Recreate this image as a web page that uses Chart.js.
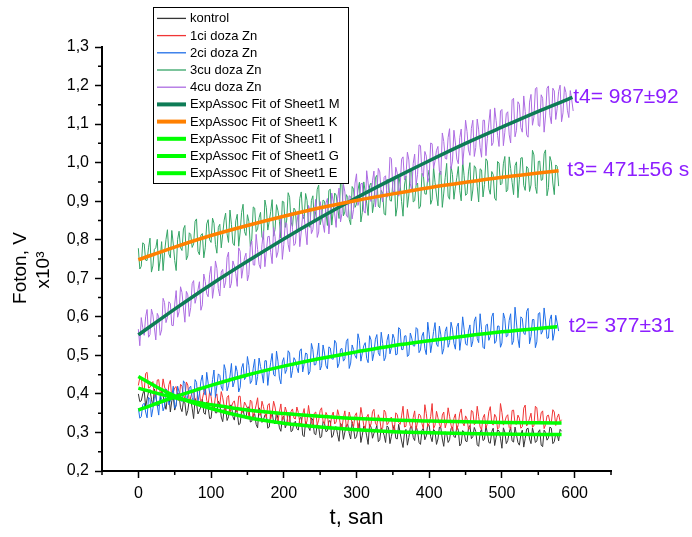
<!DOCTYPE html>
<html><head><meta charset="utf-8">
<script src="https://cdn.jsdelivr.net/npm/chart.js@4.4.1/dist/chart.umd.min.js"></script>
<style>html,body{margin:0;padding:0;background:#fff}</style>
</head><body>
<canvas id="c" width="692" height="537"></canvas>
<script>
// ---------- data (samples at t = 0,4,8,... and t = 2,6,10,...) ----------
const times = [0,4,8,12,16,20,24,28,32,36,40,44,48,52,56,60,64,68,72,76,80,84,88,92,96,100,104,108,112,116,120,124,128,132,136,140,144,148,152,156,160,164,168,172,176,180,184,188,192,196,200,204,208,212,216,220,224,228,232,236,240,244,248,252,256,260,264,268,272,276,280,284,288,292,296,300,304,308,312,316,320,324,328,332,336,340,344,348,352,356,360,364,368,372,376,380,384,388,392,396,400,404,408,412,416,420,424,428,432,436,440,444,448,452,456,460,464,468,472,476,480,484,488,492,496,500,504,508,512,516,520,524,528,532,536,540,544,548,552,556,560,564,568,572,576,580,584,588,592,596];
const timesB = [2,6,10,14,18,22,26,30,34,38,42,46,50,54,58,62,66,70,74,78,82,86,90,94,98,102,106,110,114,118,122,126,130,134,138,142,146,150,154,158,162,166,170,174,178,182,186,190,194,198,202,206,210,214,218,222,226,230,234,238,242,246,250,254,258,262,266,270,274,278,282,286,290,294,298,302,306,310,314,318,322,326,330,334,338,342,346,350,354,358,362,366,370,374,378,382,386,390,394,398,402,406,410,414,418,422,426,430,434,438,442,446,450,454,458,462,466,470,474,478,482,486,490,494,498,502,506,510,514,518,522,526,530,534,538,542,546,550,554,558,562,566,570,574,578,582,586,590,594,598];

const kontrol = [0.400,0.382,0.410,0.387,0.411,0.368,0.394,0.370,0.410,0.376,
0.392,0.353,0.393,0.372,0.398,0.354,0.377,0.357,0.388,0.336,
0.375,0.357,0.387,0.347,0.364,0.337,0.372,0.351,0.374,0.328,
0.364,0.341,0.371,0.332,0.351,0.323,0.359,0.336,0.366,0.329,
0.348,0.312,0.355,0.333,0.347,0.314,0.352,0.322,0.336,0.303,
0.342,0.322,0.343,0.305,0.329,0.306,0.339,0.289,0.321,0.305,
0.332,0.294,0.314,0.289,0.324,0.304,0.330,0.293,0.315,0.277,
0.317,0.301,0.321,0.283,0.309,0.289,0.326,0.293,0.311,0.269,
0.314,0.298,0.318,0.281,0.303,0.274,0.313,0.290,0.319,0.283,
0.299,0.261,0.308,0.287,0.315,0.279,0.302,0.269,0.311,0.291,
0.318,0.276,0.303,0.283,0.312,0.264,0.298,0.281,0.314,0.287,
0.306,0.271,0.301,0.276,0.318,0.289,0.303,0.264,0.309,0.282,
0.298,0.272,0.311,0.287,0.304,0.259,0.301,0.279,0.313,0.275,
0.294,0.267,0.306,0.284,0.311,0.271,0.296,0.278,0.307,0.263,
0.300,0.286,0.311,0.276,0.295,0.308];
const kontrolB = [0.380,0.400,0.366,0.405,0.386,0.413,0.368,0.383,0.395,0.360,
0.400,0.382,0.358,0.403,0.364,0.381,0.344,0.385,0.363,0.388,
0.348,0.367,0.351,0.379,0.336,0.372,0.351,0.381,0.340,0.361,
0.331,0.370,0.341,0.363,0.320,0.357,0.341,0.365,0.327,0.347,
0.321,0.364,0.326,0.345,0.311,0.350,0.326,0.353,0.312,0.339,
0.312,0.351,0.302,0.325,0.310,0.337,0.293,0.328,0.313,0.338,
0.297,0.321,0.286,0.328,0.302,0.330,0.287,0.313,0.294,0.324,
0.282,0.319,0.298,0.328,0.284,0.311,0.274,0.317,0.291,0.321,
0.285,0.306,0.276,0.312,0.293,0.317,0.271,0.307,0.285,0.321,
0.278,0.300,0.267,0.313,0.287,0.317,0.274,0.306,0.281,0.322,
0.289,0.308,0.269,0.314,0.283,0.302,0.274,0.310,0.289,0.317,
0.265,0.305,0.278,0.312,0.284,0.313,0.268,0.299,0.279,0.317,
0.274,0.302,0.266,0.307,0.285,0.312,0.271,0.300,0.278,0.314,
0.274,0.295,0.262,0.309,0.283,0.312,0.274,0.301,0.267,0.306,
0.280,0.314,0.271,0.297,0.278,0.303];

const doza1 = [0.422,0.443,0.408,0.456,0.417,0.432,0.394,0.437,0.404,0.418,
0.391,0.435,0.404,0.419,0.382,0.420,0.389,0.423,0.392,0.406,
0.369,0.409,0.387,0.418,0.372,0.393,0.363,0.400,0.370,0.390,
0.352,0.396,0.367,0.382,0.353,0.394,0.356,0.371,0.343,0.380,
0.355,0.390,0.345,0.367,0.338,0.375,0.350,0.366,0.328,0.374,
0.337,0.353,0.328,0.361,0.335,0.352,0.320,0.362,0.330,0.342,
0.316,0.353,0.332,0.364,0.322,0.344,0.317,0.353,0.327,0.344,
0.312,0.356,0.321,0.337,0.315,0.351,0.327,0.343,0.308,0.347,
0.322,0.360,0.318,0.334,0.312,0.352,0.325,0.340,0.306,0.346,
0.321,0.368,0.316,0.337,0.311,0.356,0.328,0.344,0.309,0.349,
0.323,0.375,0.319,0.338,0.313,0.353,0.326,0.342,0.305,0.348,
0.321,0.361,0.317,0.335,0.310,0.354,0.324,0.341,0.307,0.347,
0.323,0.367,0.319,0.340,0.313,0.352,0.328,0.346,0.309,0.358,
0.321,0.337,0.315,0.371,0.324,0.350,0.317,0.364,0.326,0.356,
0.320,0.345,0.327,0.353,0.339,0.328];
const doza1B = [0.442,0.408,0.453,0.415,0.426,0.394,0.436,0.403,0.439,0.408,
0.424,0.386,0.416,0.389,0.425,0.395,0.431,0.380,0.404,0.384,
0.417,0.368,0.404,0.383,0.406,0.364,0.393,0.366,0.406,0.369,
0.391,0.351,0.377,0.359,0.394,0.350,0.379,0.363,0.384,0.338,
0.371,0.346,0.381,0.350,0.371,0.335,0.381,0.341,0.354,0.332,
0.366,0.322,0.355,0.337,0.366,0.325,0.347,0.319,0.370,0.328,
0.350,0.319,0.357,0.329,0.352,0.312,0.343,0.322,0.359,0.317,
0.338,0.313,0.353,0.326,0.344,0.309,0.365,0.318,0.340,0.313,
0.354,0.324,0.346,0.307,0.358,0.320,0.335,0.311,0.351,0.326,
0.343,0.314,0.360,0.317,0.339,0.308,0.348,0.323,0.372,0.315,
0.341,0.310,0.355,0.321,0.345,0.312,0.364,0.319,0.337,0.306,
0.350,0.325,0.343,0.309,0.357,0.320,0.368,0.314,0.338,0.311,
0.354,0.325,0.347,0.309,0.375,0.319,0.341,0.313,0.357,0.323,
0.345,0.311,0.363,0.317,0.337,0.314,0.368,0.322,0.351,0.310,
0.343,0.326,0.359,0.318,0.348,0.333];

const doza2 = [0.363,0.341,0.376,0.338,0.387,0.362,0.400,0.345,0.386,0.367,
0.407,0.382,0.420,0.369,0.405,0.380,0.427,0.395,0.420,0.378,
0.430,0.400,0.449,0.397,0.428,0.396,0.462,0.421,0.448,0.409,
0.461,0.421,0.479,0.431,0.458,0.417,0.479,0.444,0.474,0.434,
0.490,0.445,0.471,0.428,0.486,0.456,0.505,0.446,0.485,0.426,
0.494,0.463,0.506,0.461,0.487,0.455,0.517,0.478,0.504,0.458,
0.515,0.476,0.532,0.473,0.506,0.465,0.519,0.490,0.532,0.479,
0.518,0.491,0.543,0.480,0.515,0.492,0.539,0.506,0.533,0.481,
0.540,0.506,0.554,0.499,0.531,0.495,0.555,0.520,0.544,0.503,
0.568,0.515,0.551,0.501,0.545,0.524,0.568,0.514,0.560,0.502,
0.555,0.532,0.585,0.523,0.553,0.517,0.574,0.533,0.568,0.516,
0.584,0.544,0.568,0.526,0.579,0.537,0.600,0.533,0.567,0.517,
0.581,0.549,0.610,0.537,0.576,0.532,0.595,0.551,0.608,0.538,
0.584,0.520,0.596,0.554,0.622,0.549,0.593,0.535,0.611,0.563,
0.589,0.545,0.605,0.558,0.584];
const doza2B = [0.337,0.372,0.353,0.391,0.340,0.389,0.370,0.398,0.356,0.413,
0.372,0.393,0.363,0.420,0.386,0.434,0.379,0.416,0.390,0.437,
0.381,0.433,0.408,0.456,0.403,0.437,0.391,0.452,0.418,0.476,
0.408,0.446,0.418,0.473,0.405,0.467,0.437,0.497,0.427,0.467,
0.423,0.493,0.453,0.486,0.422,0.482,0.450,0.511,0.441,0.483,
0.453,0.512,0.442,0.494,0.469,0.511,0.457,0.506,0.450,0.531,
0.475,0.500,0.462,0.527,0.473,0.522,0.491,0.539,0.468,0.516,
0.485,0.536,0.466,0.527,0.499,0.556,0.485,0.525,0.492,0.551,
0.486,0.542,0.507,0.560,0.486,0.539,0.504,0.555,0.501,0.572,
0.515,0.550,0.497,0.558,0.525,0.572,0.507,0.550,0.517,0.586,
0.507,0.562,0.529,0.576,0.503,0.562,0.521,0.586,0.531,0.574,
0.513,0.600,0.530,0.563,0.522,0.589,0.544,0.608,0.521,0.578,
0.539,0.600,0.531,0.576,0.521,0.610,0.548,0.591,0.528,0.625,
0.543,0.600,0.557,0.614,0.530,0.593,0.520,0.608,0.555,0.623,
0.544,0.593,0.539,0.604,0.563];

const doza3 = [0.778,0.731,0.789,0.746,0.804,0.732,0.779,0.719,0.795,0.767,
0.826,0.753,0.789,0.720,0.822,0.772,0.837,0.758,0.814,0.789,
0.854,0.761,0.816,0.779,0.852,0.793,0.843,0.765,0.840,0.814,
0.869,0.793,0.840,0.785,0.866,0.820,0.892,0.811,0.847,0.802,
0.882,0.828,0.871,0.801,0.883,0.848,0.904,0.827,0.875,0.804,
0.898,0.851,0.910,0.834,0.876,0.830,0.924,0.854,0.902,0.832,
0.914,0.873,0.942,0.856,0.900,0.837,0.931,0.875,0.916,0.855,
0.943,0.872,0.909,0.839,0.931,0.892,0.949,0.871,0.925,0.863,
0.947,0.896,0.967,0.883,0.920,0.864,0.951,0.900,0.963,0.885,
0.944,0.861,0.965,0.916,0.979,0.901,0.947,0.887,0.968,0.918,
0.981,0.904,0.949,0.888,0.978,0.921,0.998,0.905,0.969,0.937,
0.990,0.901,0.966,0.919,1.000,0.929,0.986,0.898,0.981,0.943,
1.004,0.918,0.969,0.902,0.999,0.946,1.016,0.930,0.985,0.917,
1.002,0.957,1.013,0.928,0.985,0.942,1.020,0.920,1.004,0.956,
1.033,0.935,1.002,0.917,0.990];
const doza3B = [0.724,0.792,0.747,0.779,0.716,0.775,0.801,0.748,0.720,0.801,
0.763,0.824,0.746,0.801,0.779,0.828,0.748,0.818,0.780,0.848,
0.770,0.812,0.753,0.841,0.800,0.856,0.788,0.832,0.779,0.851,
0.815,0.877,0.791,0.849,0.783,0.871,0.821,0.865,0.783,0.885,
0.821,0.857,0.807,0.903,0.825,0.873,0.809,0.891,0.848,0.900,
0.832,0.922,0.846,0.882,0.819,0.907,0.861,0.920,0.838,0.902,
0.852,0.931,0.839,0.903,0.870,0.928,0.838,0.921,0.883,0.950,
0.862,0.917,0.853,0.938,0.884,0.929,0.846,0.950,0.895,0.941,
0.870,0.961,0.887,0.928,0.867,0.957,0.902,0.949,0.861,0.968,
0.899,0.942,0.884,0.981,0.898,0.942,0.881,0.972,0.919,0.962,
0.892,0.989,0.916,0.973,0.884,0.962,0.913,0.990,0.905,0.962,
0.927,1.006,0.915,0.976,0.901,0.992,0.939,0.984,0.911,1.010,
0.932,0.977,0.908,1.003,0.942,0.997,0.924,1.015,0.949,0.992,
0.909,1.012,0.941,0.990,0.925,1.032,0.938,1.003,0.954,1.023,
0.914,1.016,0.947,0.994,0.939];

const doza4 = [0.568,0.598,0.552,0.619,0.554,0.605,0.540,0.600,0.566,0.637,
0.599,0.634,0.577,0.668,0.613,0.663,0.586,0.657,0.624,0.694,
0.652,0.691,0.631,0.692,0.652,0.731,0.677,0.726,0.654,0.723,
0.690,0.768,0.687,0.732,0.679,0.770,0.727,0.765,0.710,0.797,
0.734,0.775,0.725,0.822,0.769,0.809,0.738,0.808,0.768,0.855,
0.787,0.842,0.769,0.827,0.790,0.872,0.820,0.860,0.787,0.876,
0.826,0.905,0.820,0.875,0.819,0.907,0.859,0.900,0.832,0.934,
0.868,0.924,0.858,0.912,0.879,0.971,0.903,0.947,0.869,0.947,
0.899,0.978,0.921,0.976,0.898,0.966,0.928,1.010,0.922,0.973,
0.937,1.015,0.963,1.007,0.927,1.022,0.970,1.044,0.963,1.017,
0.963,1.049,1.004,1.042,0.969,1.055,1.009,1.088,1.004,1.051,
0.997,1.087,1.038,1.081,1.019,1.110,1.039,1.085,1.014,1.110,
1.063,1.138,1.052,1.109,1.042,1.138,1.079,1.132,1.051,1.167,
1.084,1.151,1.079,1.133,1.066,1.177,1.118,1.195,1.094,1.167,
1.121,1.199,1.101,1.186,1.141,1.201,1.129,1.182,1.117,1.163];
const doza4B = [0.525,0.572,0.600,0.547,0.620,0.572,0.609,0.552,0.648,0.585,
0.639,0.578,0.633,0.599,0.678,0.623,0.666,0.601,0.686,0.635,
0.670,0.617,0.711,0.660,0.709,0.648,0.745,0.673,0.716,0.675,
0.754,0.675,0.745,0.712,0.779,0.700,0.753,0.693,0.784,0.735,
0.814,0.736,0.787,0.730,0.808,0.767,0.832,0.754,0.807,0.749,
0.844,0.788,0.871,0.785,0.844,0.782,0.866,0.823,0.889,0.816,
0.866,0.806,0.899,0.841,0.895,0.815,0.921,0.867,0.906,0.846,
0.944,0.864,0.914,0.854,0.947,0.889,0.945,0.875,0.979,0.911,
0.953,0.885,0.985,0.917,0.962,0.910,1.014,0.928,0.988,0.913,
1.009,0.955,1.027,0.945,0.998,0.942,1.046,0.974,1.029,0.949,
1.051,0.985,1.032,0.978,1.077,1.011,1.065,0.984,1.084,1.009,
1.065,0.995,1.110,1.033,1.089,1.016,1.113,1.039,1.110,1.018,
1.103,1.044,1.142,1.071,1.134,1.044,1.127,1.072,1.163,1.067,
1.158,1.091,1.173,1.072,1.157,1.097,1.192,1.097,1.176,1.079,
1.193,1.122,1.193,1.112,1.185,1.106,1.197,1.136,1.187,1.134];

// ExpAssoc fits
const fitMT = [0,50,100,150,200,250,300,350,400,450,500,550,597];
const fitM  = [0.553,0.620,0.684,0.744,0.802,0.857,0.909,0.958,1.005,1.050,1.092,1.133,1.169];
const fitKT = [0,50,100,150,200,250,300,350,400,450,500,550,578];
const fitK  = [0.748,0.781,0.811,0.837,0.861,0.883,0.902,0.919,0.935,0.949,0.962,0.973,0.979];
const fitIT = [0,50,100,150,200,250,300,350,400,450,500,550,576];
const fitI  = [0.358,0.392,0.422,0.449,0.472,0.492,0.509,0.525,0.538,0.550,0.561,0.570,0.574];
const fitGT = [0,25,50,75,100,150,200,250,300,350,400,450,500,550,582];
const fitG  = [0.415,0.402,0.390,0.380,0.372,0.358,0.349,0.342,0.336,0.332,0.330,0.328,0.326,0.325,0.3245];
const fitET = [0,25,50,75,100,150,200,250,300,350,400,450,500,550,582];
const fitE  = [0.445,0.418,0.395,0.377,0.362,0.339,0.324,0.314,0.307,0.302,0.299,0.297,0.296,0.295,0.2945];

const seriesLabels = ['kontrol','1ci doza Zn','2ci doza Zn','3cu doza Zn','4cu doza Zn',
  'ExpAssoc Fit of Sheet1 M','ExpAssoc Fit of Sheet1 K','ExpAssoc Fit of Sheet1 I',
  'ExpAssoc Fit of Sheet1 G','ExpAssoc Fit of Sheet1 E'];

const xTickValues = [0,100,200,300,400,500,600];
const xTickLabels = ['0','100','200','300','400','500','600'];
const xMinorTicks = [-50,50,150,250,350,450,550,650];
const yTickValues = [0.2,0.3,0.4,0.5,0.6,0.7,0.8,0.9,1.0,1.1,1.2,1.3];
const yTickLabels = ['0,2','0,3','0,4','0,5','0,6','0,7','0,8','0,9','1,0','1,1','1,2','1,3'];
const yMinorTicks = [0.25,0.35,0.45,0.55,0.65,0.75,0.85,0.95,1.05,1.15,1.25];

const xTitle = 't, san';
const yTitleLines = ['Foton, V', 'x10\u00B3'];

const notes = [
  {text:'t4= 987\u00B192', x:598, y:1.170},
  {text:'t3= 471\u00B156 s', x:590, y:0.980},
  {text:'t2= 377\u00B131', x:592, y:0.576}
];

// ---------- build ----------
const FAM = "'Liberation Sans', Arial, sans-serif";
function merge(a, b) {
  const out = [];
  const n = Math.max(a.length, b.length);
  for (let i = 0; i < n; i++) {
    if (i < a.length) out.push({x: times[i], y: a[i]});
    if (i < b.length) out.push({x: timesB[i], y: b[i]});
  }
  return out;
}
const pts = (tt, vv) => vv.map((v, i) => ({x: tt[i], y: v}));

const colors = ['#353535','#f03535','#1f6ee8','#35a566','#ad6ce2','#0e7c56','#ff8000','#00ff00','#00ff00','#00ff00'];
const rawA = [kontrol, doza1, doza2, doza3, doza4];
const rawB = [kontrolB, doza1B, doza2B, doza3B, doza4B];
const fitsT = [fitMT, fitKT, fitIT, fitGT, fitET];
const fitsV = [fitM, fitK, fitI, fitG, fitE];

const datasets = [];
rawA.forEach((vals, k) => datasets.push({
  label: seriesLabels[k], data: merge(vals, rawB[k]), borderColor: colors[k],
  borderWidth: 1, pointRadius: 0, tension: 0, order: 10 - k, fill: false
}));
fitsV.forEach((vals, k) => datasets.push({
  label: seriesLabels[5 + k], data: pts(fitsT[k], vals), borderColor: colors[5 + k],
  borderWidth: 3.5, pointRadius: 0, cubicInterpolationMode: 'monotone', order: 5 - k, fill: false
}));

const minorTicks = {
  id: 'minorTicks',
  afterDraw(chart) {
    const ctx = chart.ctx, xs = chart.scales.x, ys = chart.scales.y;
    ctx.save();
    ctx.strokeStyle = '#000'; ctx.lineWidth = 1.5;
    ctx.beginPath();
    xMinorTicks.forEach(v => { const p = xs.getPixelForValue(v); ctx.moveTo(p, ys.bottom); ctx.lineTo(p, ys.bottom + 4); });
    yMinorTicks.forEach(v => { const p = ys.getPixelForValue(v); ctx.moveTo(xs.left, p); ctx.lineTo(xs.left - 4, p); });
    ctx.stroke();
    ctx.restore();
  }
};

const yTitlePlugin = {
  id: 'yTitle',
  afterDraw(chart) {
    const ctx = chart.ctx;
    ctx.save();
    ctx.fillStyle = '#000';
    ctx.textAlign = 'center'; ctx.textBaseline = 'middle';
    ctx.font = '19px ' + FAM;
    ctx.translate(21, 268); ctx.rotate(-Math.PI / 2);
    ctx.fillText(yTitleLines[0], 0, 0);
    ctx.fillText(yTitleLines[1], -2, 23);
    ctx.restore();
  }
};

const boxLegend = {
  id: 'boxLegend',
  afterDraw(chart) {
    const ctx = chart.ctx;
    ctx.save();
    ctx.fillStyle = '#fff';
    ctx.fillRect(153, 7, 195, 176);
    ctx.strokeStyle = '#000'; ctx.lineWidth = 1;
    ctx.strokeRect(153.5, 7.5, 195, 176);
    ctx.font = '13px ' + FAM;
    ctx.textBaseline = 'middle'; ctx.textAlign = 'left';
    chart.data.datasets.forEach((ds, k) => {
      const y = 18.4 + k * 17.2;
      ctx.strokeStyle = ds.borderColor;
      ctx.lineWidth = ds.borderWidth > 2 ? 4 : 1.3;
      ctx.beginPath(); ctx.moveTo(157, y); ctx.lineTo(186, y); ctx.stroke();
      ctx.fillStyle = '#000';
      ctx.fillText(ds.label, 190, y + 0.5);
    });
    ctx.restore();
  }
};

const noteLabels = {
  id: 'noteLabels',
  afterDraw(chart) {
    const ctx = chart.ctx, xs = chart.scales.x, ys = chart.scales.y;
    ctx.save();
    ctx.fillStyle = '#8c1eff';
    ctx.font = '21px ' + FAM;
    ctx.textBaseline = 'middle'; ctx.textAlign = 'left';
    notes.forEach(n => ctx.fillText(n.text, xs.getPixelForValue(n.x), ys.getPixelForValue(n.y)));
    ctx.restore();
  }
};

new Chart(document.getElementById('c'), {
  type: 'line',
  data: { datasets },
  plugins: [minorTicks, yTitlePlugin, boxLegend, noteLabels],
  options: {
    responsive: false, animation: false, devicePixelRatio: 1,
    layout: { padding: { left: 0, top: 47, right: 81, bottom: 0 } },
    plugins: { legend: { display: false }, tooltip: { enabled: false } },
    scales: {
      x: {
        type: 'linear', min: -50, max: 650, position: 'bottom',
        afterBuildTicks: s => { s.ticks = xTickValues.map(v => ({ value: v })); },
        afterFit: s => { s.height = 66; s.paddingLeft = 0; s.paddingRight = 0; },
        grid: { drawOnChartArea: false, tickLength: 7, tickColor: '#000', tickWidth: 1.5 },
        border: { color: '#000', width: 2 },
        ticks: { color: '#000', font: { size: 16, family: FAM }, padding: 6, maxRotation: 0, autoSkip: false,
                 callback: (v, i) => xTickLabels[i] },
        title: { display: true, text: xTitle, color: '#000', font: { size: 22, family: FAM, lineHeight: 1.2 }, padding: { top: 0, bottom: 6 } }
      },
      y: {
        type: 'linear', min: 0.2, max: 1.3,
        afterBuildTicks: s => { s.ticks = yTickValues.map(v => ({ value: v })); },
        afterFit: s => { s.width = 102; s.paddingTop = 0; s.paddingBottom = 0; },
        grid: { drawOnChartArea: false, tickLength: 7, tickColor: '#000', tickWidth: 1.5 },
        border: { color: '#000', width: 2 },
        ticks: { color: '#000', font: { size: 16, family: FAM }, padding: 6, autoSkip: false,
                 callback: (v, i) => yTickLabels[i] },
        title: { display: false }
      }
    }
  }
});
</script>
</body></html>
